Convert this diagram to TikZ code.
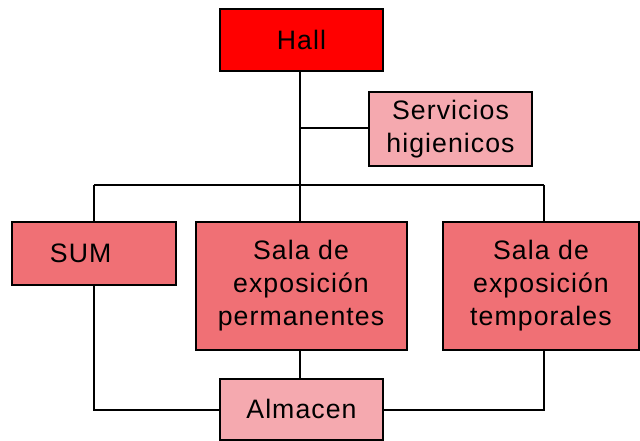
\documentclass[tikz,border=0pt]{standalone}
\usepackage{fontspec}
\setmainfont{Liberation Sans}[LetterSpace=4]
\definecolor{hallred}{HTML}{FF0000}
\definecolor{salared}{HTML}{F07075}
\definecolor{lightpink}{HTML}{F5A9AF}
\begin{document}
\begin{tikzpicture}[x=0.75pt,y=-0.75pt,
  box/.style={draw=black,line width=1.5pt,rectangle,inner sep=0pt,align=center,
    font=\fontsize{20}{24.7}\selectfont},
  link/.style={draw=black,line width=1.5pt}]
\useasboundingbox[fill=white] (0,0) rectangle (640,440);
\node[box,fill=hallred,minimum width=163*0.75pt,minimum height=62*0.75pt] (hall) at (301.5,40) {Hall};
\node[box,fill=lightpink,minimum width=163*0.75pt,minimum height=74*0.75pt] (serv) at (450.5,129) {Servicios\\higienicos};
\node[box,fill=salared,minimum width=164*0.75pt,minimum height=63*0.75pt] (sum) at (94,253.5) {SUM\hspace*{20pt}};
\node[box,fill=salared,minimum width=211*0.75pt,minimum height=128*0.75pt] (perm) at (301,286) {Sala de\\exposición\\permanentes};
\node[box,fill=salared,minimum width=196*0.75pt,minimum height=128*0.75pt] (temp) at (541,286) {Sala de\\exposición\\temporales};
\node[box,fill=lightpink,minimum width=163*0.75pt,minimum height=61*0.75pt] (alm) at (301.5,409) {Almacen};
\coordinate (jserv) at (300,128);
\coordinate (jmid) at (300,185);
\coordinate (jl) at (94,185);
\coordinate (jr) at (544,185);
\coordinate (bl) at (94,410);
\coordinate (br) at (544,410);
\path[link] (hall.south -| jmid) -- (perm.north -| jmid);
\path[link] (jserv) -- (serv.west |- jserv);
\path[link] (jl) -- (jr);
\path[link] (jl) -- (sum.north -| jl);
\path[link] (jr) -- (temp.north -| jr);
\path[link] (sum.south -| bl) -- (bl) -- (alm.west |- bl);
\path[link] (temp.south -| br) -- (br) -- (alm.east |- br);
\path[link] (perm.south -| jmid) -- (alm.north -| jmid);
\end{tikzpicture}
\end{document}
